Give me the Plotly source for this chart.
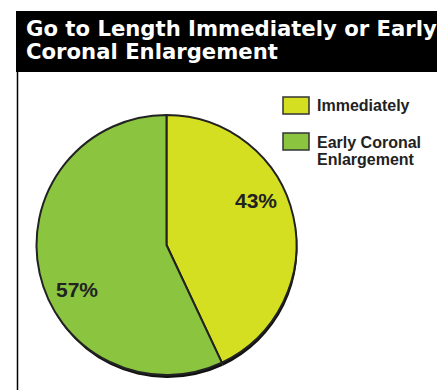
import math
import plotly.graph_objects as go

labels = ["Immediately", "Early Coronal<br>Enlargement"]
values = [43, 57]
colors = ["#D5DF22", "#8BC540"]
title_lines = ["Go to Length Immediately or Early", "Coronal Enlargement"]

W, H = 437, 390
def px(x): return x / W
def py(y): return 1 - y / H

CX, CY, R = 166.5, 245, 130

fig = go.Figure()
# shadow
fig.add_trace(go.Pie(values=values, sort=False, direction="clockwise", rotation=0,
                     marker=dict(colors=["#111", "#111"], line=dict(width=0)),
                     textinfo="none", hoverinfo="skip", showlegend=False,
                     domain=dict(x=[px(CX - R + 1), px(CX + R + 1)], y=[py(CY + R + 3), py(CY - R + 3)])))
fig.add_trace(go.Pie(labels=labels, values=values, sort=False, direction="clockwise", rotation=0,
                     marker=dict(colors=colors, line=dict(color="#222", width=2)),
                     textinfo="none", showlegend=False,
                     domain=dict(x=[px(CX - R), px(CX + R)], y=[py(CY + R), py(CY - R)])))

shapes = [
    dict(type="rect", xref="paper", yref="paper", x0=px(16), x1=1, y0=py(72), y1=py(11),
         fillcolor="black", line=dict(width=0), layer="below"),
    dict(type="line", xref="paper", yref="paper", x0=px(17.5), x1=px(17.5), y0=0, y1=py(72),
         line=dict(color="black", width=1.5)),
]
annotations = []
for i, line in enumerate(title_lines):
    annotations.append(dict(text="<b>" + line + "</b>", xref="paper", yref="paper",
                            x=px(24), y=py(29 + 23 * i), xanchor="left", yanchor="middle",
                            showarrow=False, align="left",
                            font=dict(family="DejaVu Sans", size=21.2, color="white")))

# percent labels derived from the values
total = sum(values)
start = 0.0
for v in values:
    frac = v / total
    mid = (start + frac / 2) * 360 - 14
    start += frac
    a = math.radians(mid)
    x = CX + 100 * math.sin(a)
    y = CY - 100 * math.cos(a)
    annotations.append(dict(text="<b>%d%%</b>" % round(frac * 100), xref="paper", yref="paper",
                            x=px(x), y=py(y), xanchor="center", yanchor="middle", showarrow=False,
                            font=dict(family="Liberation Sans", size=21, color="#222")))

box_tops = [97, 133]
for i, (lab, col) in enumerate(zip(labels, colors)):
    t = box_tops[i]
    shapes.append(dict(type="rect", xref="paper", yref="paper", x0=px(283), x1=px(309),
                       y0=py(t + 17), y1=py(t), fillcolor=col, line=dict(color="#333", width=1.5)))
    for j, part in enumerate(lab.split("<br>")):
        annotations.append(dict(text="<b>" + part + "</b>", xref="paper", yref="paper",
                                x=px(315), y=py(t + 9 + 17 * j), xanchor="left", yanchor="middle",
                                showarrow=False, align="left",
                                font=dict(family="Liberation Sans", size=16, color="#222")))

fig.update_layout(width=W, height=H, margin=dict(l=0, r=0, t=0, b=0),
                  paper_bgcolor="white", plot_bgcolor="white",
                  shapes=shapes, annotations=annotations)
fig.write_html("out.html")
